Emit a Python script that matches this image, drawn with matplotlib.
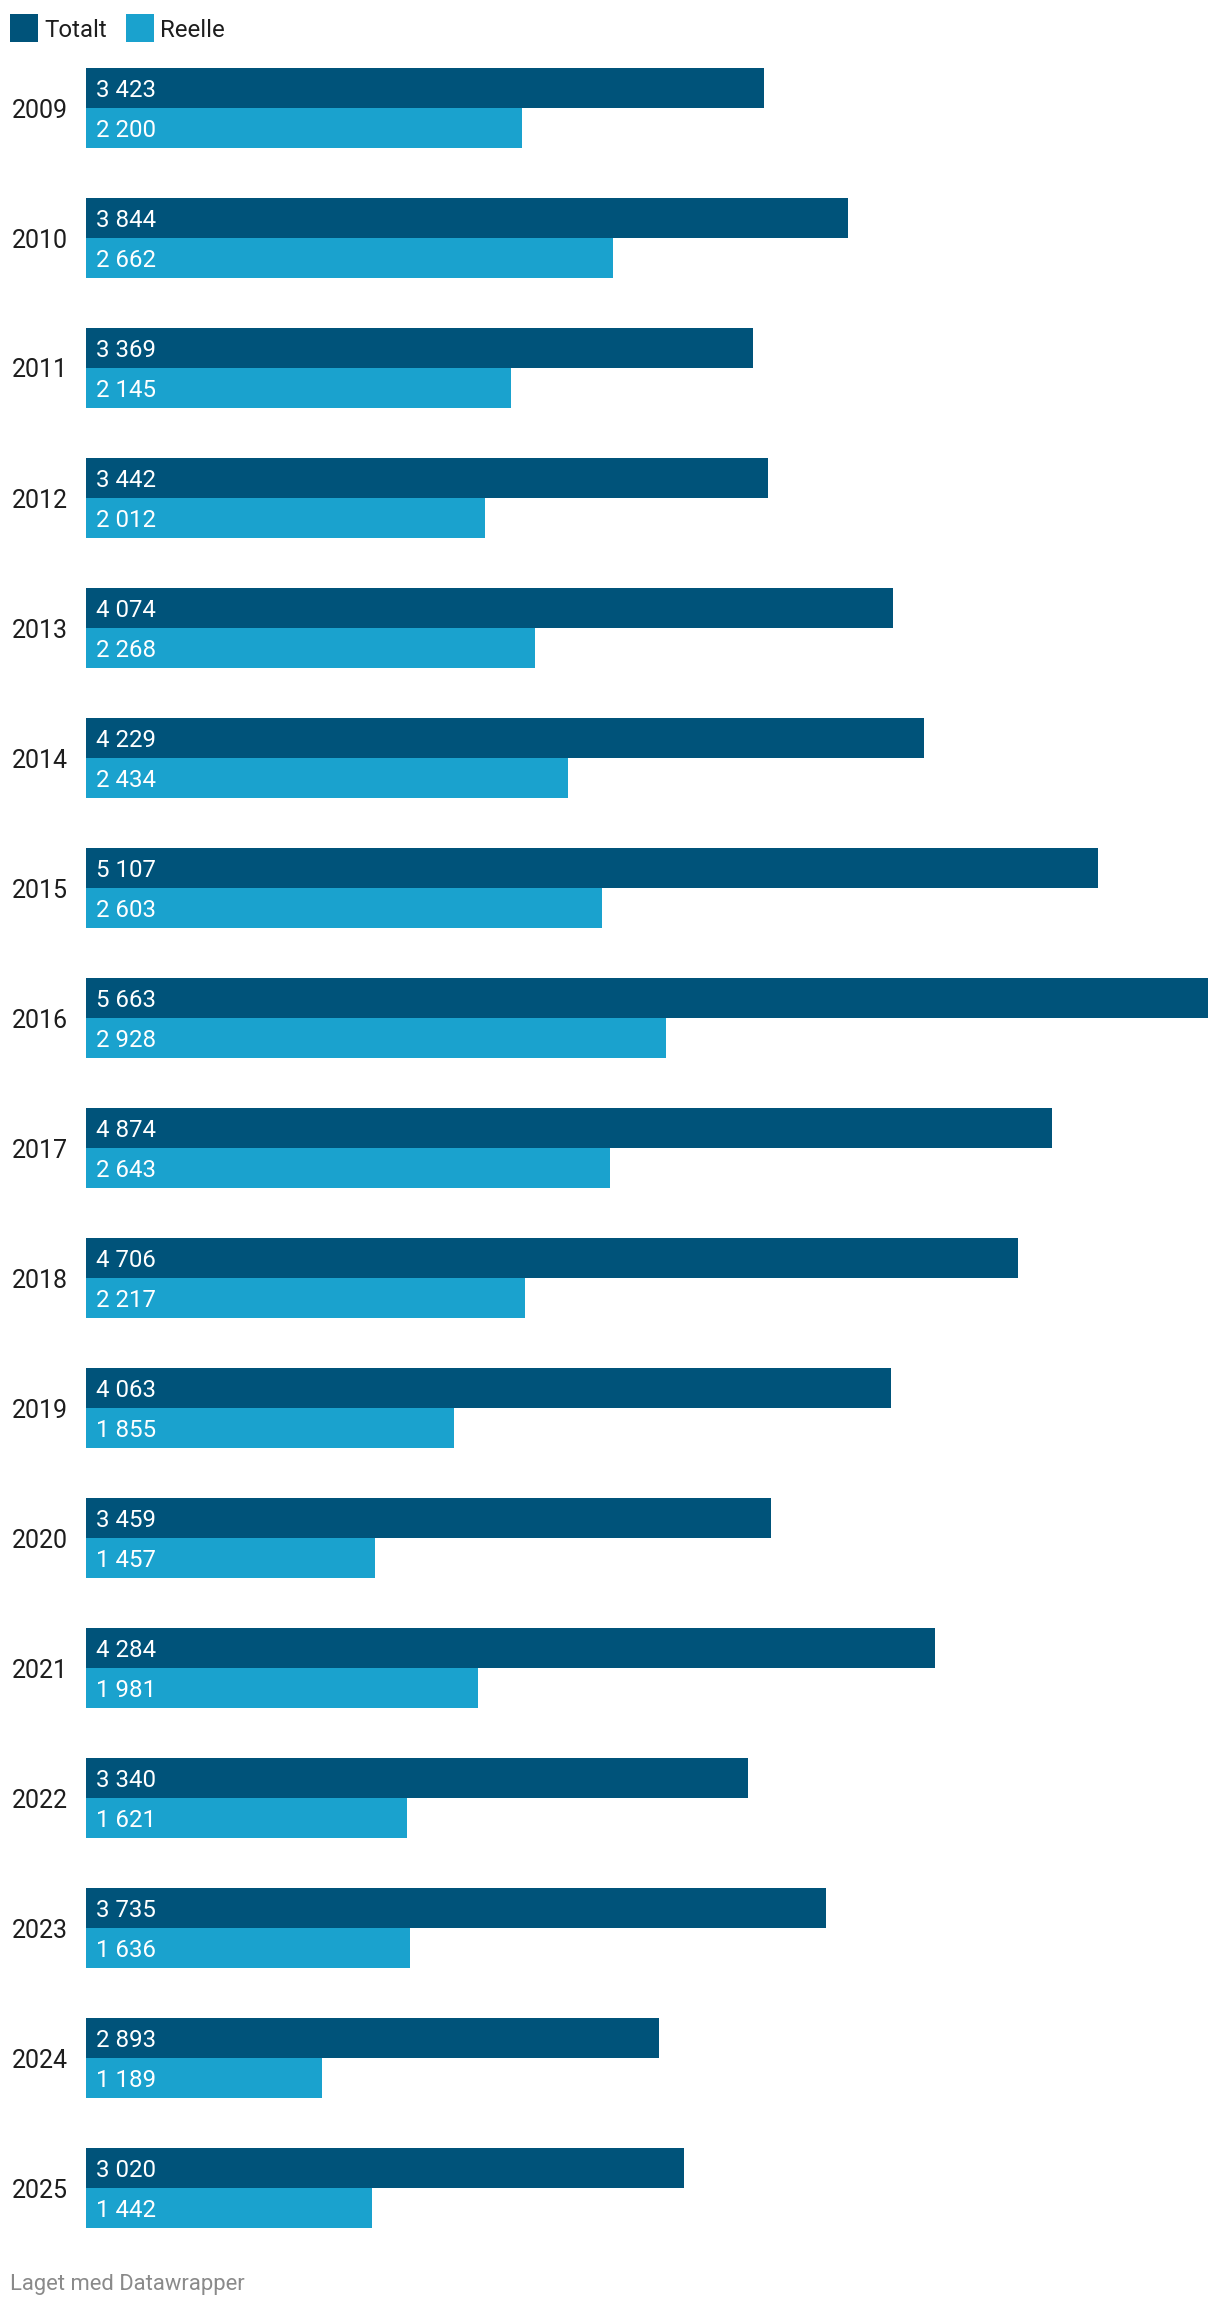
import matplotlib.pyplot as plt
from matplotlib.patches import Rectangle
import numpy as np

# -----------------------------------------------------------------------------
# data
years = ['2009', '2010', '2011', '2012', '2013', '2014', '2015', '2016',
         '2017', '2018', '2019', '2020', '2021', '2022', '2023', '2024', '2025']
totalt = [3423, 3844, 3369, 3442, 4074, 4229, 5107, 5663,
          4874, 4706, 4063, 3459, 4284, 3340, 3735, 2893, 3020]
reelle = [2200, 2662, 2145, 2012, 2268, 2434, 2603, 2928,
          2643, 2217, 1855, 1457, 1981, 1621, 1636, 1189, 1442]
series_names = ['Totalt', 'Reelle']

# -----------------------------------------------------------------------------
# style
DARK = '#00537a'
LIGHT = '#1aa2ce'
TEXT = '#1d1d1d'
W, H = 1220, 2306
plt.rcParams['font.family'] = ['Roboto', 'DejaVu Sans']


def fmt(v):
    return '{:,}'.format(v).replace(',', ' ')


fig = plt.figure(figsize=(W / 100, H / 100), dpi=100)

# axes spans the bar area horizontally, full height vertically
left, right = 86, 1208
ax = fig.add_axes([left / W, 0, (right - left) / W, 1])
pitch = 130.0
first_center = 108.0
bar_h = 40.0 / pitch
ax.set_xlim(0, max(totalt))
ax.set_ylim((H - first_center) / pitch, -first_center / pitch)
ax.axis('off')

pos = np.arange(len(years))
ax.barh(pos - bar_h / 2, totalt, height=bar_h, color=DARK, linewidth=0)
ax.barh(pos + bar_h / 2, reelle, height=bar_h, color=LIGHT, linewidth=0)

for i in pos:
    ax.annotate(fmt(totalt[i]), (0, i - bar_h / 2), xytext=(10, 0),
                textcoords='offset pixels', va='center_baseline', ha='left',
                color='white', fontsize=17.3)
    ax.annotate(fmt(reelle[i]), (0, i + bar_h / 2), xytext=(10, 0),
                textcoords='offset pixels', va='center_baseline', ha='left',
                color='white', fontsize=17.3)
    fig.text(12 / W, 1 - (first_center + pitch * i) / H, years[i],
             va='center_baseline', ha='left', color=TEXT, fontsize=18)

# legend
for (x0, name, col) in [(10, series_names[0], DARK), (126, series_names[1], LIGHT)]:
    fig.add_artist(Rectangle((x0 / W, 1 - 42 / H), 28 / W, 28 / H,
                             transform=fig.transFigure, color=col, lw=0))
    fig.text((x0 + 34) / W, 1 - 28 / H, name, va='center_baseline', ha='left',
             color=TEXT, fontsize=17.3)

# footer
fig.text(10 / W, 1 - 2282 / H, 'Laget med Datawrapper', va='center_baseline',
         ha='left', color='#8a8a8a', fontsize=15.8)

fig.savefig('out.png', dpi=100, facecolor='white')
